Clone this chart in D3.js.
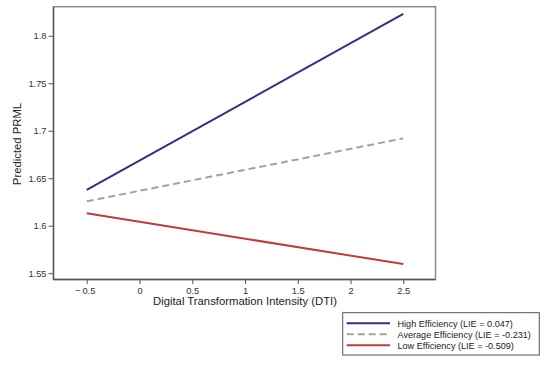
<!DOCTYPE html>
<html><head><meta charset="utf-8">
<script src="https://cdn.jsdelivr.net/npm/d3@7/dist/d3.min.js"></script>
<style>body{margin:0;background:#fff;} text{font-family:"Liberation Sans",Arial,sans-serif;}</style>
</head><body><svg id="c" width="550" height="374"></svg>
<script>
const dti = [-0.5, 2.5];
const highEff = [1.6377, 1.823];
const avgEff = [1.6257, 1.692];
const lowEff = [1.6131, 1.5596];
const xTicks = [-0.5, 0, 0.5, 1, 1.5, 2, 2.5];
const yTicks = [1.55, 1.6, 1.65, 1.7, 1.75, 1.8];
const seriesNames = ["High Efficiency (LIE = 0.047)", "Average Efficiency (LIE = -0.231)", "Low Efficiency (LIE = -0.509)"];

const series = [
  {name: seriesNames[0], vals: highEff, color: "#2e3283", dash: null},
  {name: seriesNames[1], vals: avgEff, color: "#a3a3a3", dash: "7,4"},
  {name: seriesNames[2], vals: lowEff, color: "#bf3b3e", dash: null}
];

const svg = d3.select("#c");
const L = 53.5, R = 435.5, T = 6.7, B = 279.5;
const x = d3.scaleLinear().domain([-0.5, 2.5]).range([86.7, 403.3]);
const y = d3.scaleLinear().domain([1.55, 1.8]).range([273.2, 35.8]);

// frame
svg.append("rect").attr("x", L).attr("y", T).attr("width", R - L).attr("height", B - T)
  .attr("fill", "none").attr("stroke", "#8a8a8a").attr("stroke-width", 1.5);
svg.append("line").attr("x1", L).attr("x2", L).attr("y1", T).attr("y2", B).attr("stroke", "#555").attr("stroke-width", 1.3);
svg.append("line").attr("x1", L).attr("x2", R).attr("y1", B).attr("y2", B).attr("stroke", "#555").attr("stroke-width", 1.3);

const fmt = d => (d < 0 ? "\u2212\u2009" : "") + Math.abs(d);
const xa = svg.append("g").attr("transform", `translate(0,${B})`)
  .call(d3.axisBottom(x).tickValues(xTicks).tickSize(4.5).tickPadding(3.3).tickFormat(fmt));
const ya = svg.append("g").attr("transform", `translate(${L},0)`)
  .call(d3.axisLeft(y).tickValues(yTicks).tickSize(5).tickPadding(2).tickFormat(d => d));
[xa, ya].forEach(a => {
  a.select(".domain").remove();
  a.selectAll("line").attr("stroke", "#555");
  a.selectAll("text").attr("fill", "#333").style("font-size", "9.3px");
});
xa.selectAll("text").filter(d => d < 0).attr("dx", "-2");

svg.append("text").attr("x", 245).attr("y", 305).attr("text-anchor", "middle")
  .style("font-size", "11.3px").attr("fill", "#222").text("Digital Transformation Intensity (DTI)");
svg.append("text").attr("transform", "translate(21,144) rotate(-90)").attr("text-anchor", "middle")
  .style("font-size", "11.3px").attr("fill", "#222").text("Predicted PRML");

const line = d3.line().x((d, i) => x(dti[i])).y(d => y(d));
series.forEach(s => {
  svg.append("path").attr("d", line(s.vals)).attr("fill", "none")
    .attr("stroke", s.color).attr("stroke-width", 2).attr("stroke-dasharray", s.dash);
});

// legend
const lg = svg.append("g");
lg.append("rect").attr("x", 342.7).attr("y", 312.7).attr("width", 196.6).attr("height", 42.3)
  .attr("fill", "#fff").attr("stroke", "#555").attr("stroke-width", 1);
series.forEach((s, i) => {
  const yy = 323.3 + i * 11;
  lg.append("line").attr("x1", 346.7).attr("x2", 390).attr("y1", yy).attr("y2", yy)
    .attr("stroke", s.color).attr("stroke-width", 2).attr("stroke-dasharray", s.dash);
  lg.append("text").attr("x", 397.5).attr("y", yy + 3.3).style("font-size", "9.1px").attr("fill", "#222").text(s.name);
});
</script></body></html>
